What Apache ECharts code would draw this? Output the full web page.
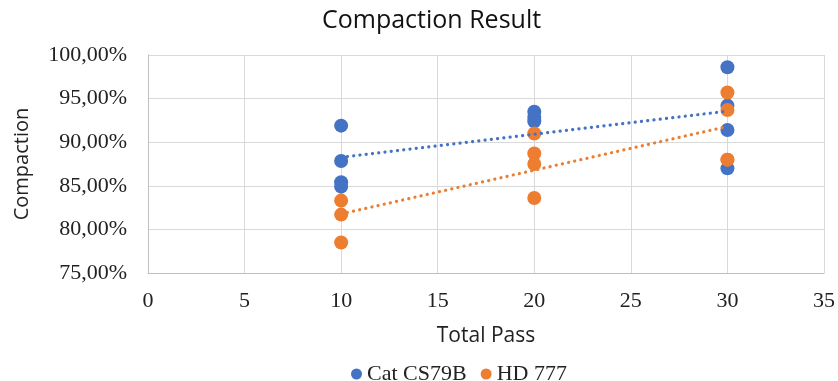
<!DOCTYPE html>
<html><head><meta charset="utf-8">
<script src="https://cdn.jsdelivr.net/npm/echarts@6/dist/echarts.min.js"></script>
<style>html,body{margin:0;padding:0;background:#fff}#c{width:838px;height:381px}</style>
</head><body><div id="c"></div>
<script>
const seriesNames = ['Cat CS79B', 'HD 777'];
const catPass = [10, 10, 10, 10, 20, 20, 20, 30, 30, 30, 30];
const catCompaction = [91.9, 87.85, 85.4, 84.9, 93.5, 92.9, 92.4, 98.6, 94.2, 91.4, 87.0];
const hdPass = [10, 10, 10, 20, 20, 20, 20, 30, 30, 30, 30];
const hdCompaction = [83.3, 81.7, 78.5, 91.0, 88.7, 87.5, 83.6, 95.7, 93.7, 88.0, 88.0];
const xTicks = [0, 5, 10, 15, 20, 25, 30, 35];
const yTicks = [75, 80, 85, 90, 95, 100];

function pairs(xs, ys) { return xs.map((x, i) => [x, ys[i]]); }
function trend(xs, ys) {
  const n = xs.length;
  const mx = xs.reduce((a, b) => a + b, 0) / n;
  const my = ys.reduce((a, b) => a + b, 0) / n;
  let sxy = 0, sxx = 0;
  for (let i = 0; i < n; i++) { sxy += (xs[i] - mx) * (ys[i] - my); sxx += (xs[i] - mx) ** 2; }
  const b = sxy / sxx, a = my - b * mx;
  const x0 = Math.min(...xs), x1 = Math.max(...xs);
  return [[x0, a + b * x0], [x1, a + b * x1]];
}
const blue = '#4472C4', orange = '#ED7D31';
const chart = echarts.init(document.getElementById('c'), null, {renderer: 'canvas'});
const serif = '"Liberation Serif", "Times New Roman", serif';
const sans = '"Open Sans", "Noto Sans", sans-serif';
const trendStyle = c => ({color: c, width: 3.2, type: [0.1, 6.2], cap: 'round'});
chart.setOption({
  animation: false,
  title: {text: 'Compaction Result', left: 317, top: 3,
    textStyle: {fontFamily: sans, fontSize: 25, fontWeight: 'normal', color: '#111'}},
  grid: {left: 148, right: 10, top: 55, bottom: 108, containLabel: false},
  legend: {data: seriesNames, top: 358, left: 346, icon: 'circle', itemWidth: 11, itemHeight: 11, itemGap: 14,
    textStyle: {fontFamily: serif, fontSize: 22, color: '#222', padding: [0, 0, 0, 0]}},
  xAxis: {type: 'value', min: xTicks[0], max: xTicks[xTicks.length - 1], interval: 5,
    name: 'Total Pass', nameLocation: 'middle', nameGap: 53,
    nameTextStyle: {fontFamily: sans, fontSize: 21, color: '#222'},
    axisLine: {show: true, lineStyle: {color: '#bfbfbf'}}, axisTick: {show: false},
    axisLabel: {fontFamily: serif, fontSize: 22, color: '#222', margin: 17},
    splitLine: {show: true, lineStyle: {color: '#d9d9d9'}}},
  yAxis: {type: 'value', min: yTicks[0], max: yTicks[yTicks.length - 1], interval: 5,
    name: 'Compaction', nameLocation: 'middle', nameGap: 116, nameRotate: 90,
    nameTextStyle: {fontFamily: sans, fontSize: 20, color: '#222'},
    axisLine: {show: true, lineStyle: {color: '#bfbfbf'}}, axisTick: {show: false},
    axisLabel: {fontFamily: serif, fontSize: 22, color: '#222', margin: 21,
      formatter: v => v.toFixed(2).replace('.', ',') + '%'},
    splitLine: {show: true, lineStyle: {color: '#d9d9d9'}}},
  series: [
    {name: seriesNames[0], type: 'scatter', data: pairs(catPass, catCompaction), symbolSize: 14,
      itemStyle: {color: blue, opacity: 1}, z: 2},
    {name: seriesNames[1], type: 'scatter', data: pairs(hdPass, hdCompaction), symbolSize: 14,
      itemStyle: {color: orange, opacity: 1}, z: 3},
    {name: 'trend1', type: 'line', data: trend(catPass, catCompaction), showSymbol: false, symbol: 'none',
      lineStyle: trendStyle(blue), z: 4, silent: true},
    {name: 'trend2', type: 'line', data: trend(hdPass, hdCompaction), showSymbol: false, symbol: 'none',
      lineStyle: trendStyle(orange), z: 4, silent: true}
  ]
});
</script></body></html>
